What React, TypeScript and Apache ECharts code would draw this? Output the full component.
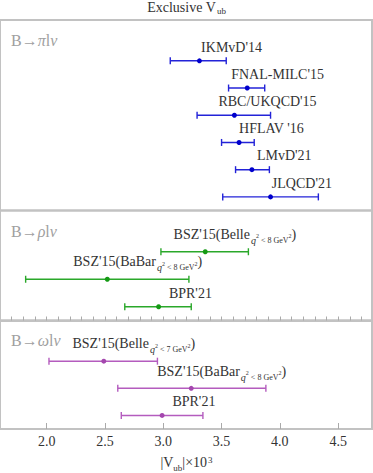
import React, { useEffect, useRef } from "react";
import * as echarts from "echarts";

// ---------- data ----------
const piNames = ["IKMvD'14", "FNAL-MILC'15", "RBC/UKQCD'15", "HFLAV '16", "LMvD'21", "JLQCD'21"];
const piCentral = [3.31, 3.72, 3.61, 3.65, 3.76, 3.92];
const piLow = [3.06, 3.56, 3.29, 3.5, 3.62, 3.51];
const piHigh = [3.54, 3.87, 3.92, 3.78, 3.91, 4.33];
const piCuts = ["", "", "", "", "", ""];

const rhoNames = ["BSZ'15(Belle", "BSZ'15(BaBar", "BPR'21"];
const rhoCentral = [3.36, 2.52, 2.96];
const rhoLow = [2.98, 1.82, 2.67];
const rhoHigh = [3.73, 3.22, 3.24];
const rhoCuts = ["8", "8", ""];

const omegaNames = ["BSZ'15(Belle", "BSZ'15(BaBar", "BPR'21"];
const omegaCentral = [2.49, 3.24, 2.99];
const omegaLow = [2.02, 2.61, 2.64];
const omegaHigh = [2.95, 3.88, 3.34];
const omegaCuts = ["7", "8", ""];

const xTickLabels = [2.0, 2.5, 3.0, 3.5, 4.0, 4.5];

// ---------- layout (pixel offsets for labels) ----------
const piLabelDx = [1.7, -16, -16, 0, 5, 1.3];
const rhoLabelDx = [-31.7, -34, 10.3];
const omegaLabelDx = [-31.3, -34, 10.3];

const FONT = "Liberation Serif, DejaVu Serif, serif";
const X_MIN = 1.6;
const X_MAX = 4.79;
const TXT = "#333";

const tok = (o: any) => ({ fontFamily: FONT, fontWeight: "normal", fill: TXT, color: TXT, ...o });

const labelRich = {
  m: tok({ fontSize: 14, lineHeight: 16, verticalAlign: "top" }),
  q: tok({ fontSize: 10, lineHeight: 12, fontStyle: "italic", verticalAlign: "top", padding: [8, 0, 0, 1] }),
  s: tok({ fontSize: 6, lineHeight: 7, verticalAlign: "top", padding: [6, 0, 0, 0] }),
  c: tok({ fontSize: 8, lineHeight: 10, verticalAlign: "top", padding: [9, 0, 0, 0] }),
};

function makeSeries(
  idx: number,
  names: string[],
  central: number[],
  low: number[],
  high: number[],
  cuts: string[],
  dxs: number[],
  color: string,
  dot: string
) {
  const data = central.map((c, i) => [c, low[i], high[i], i + 1.5]);
  return {
    type: "custom",
    xAxisIndex: idx,
    yAxisIndex: idx,
    data,
    silent: true,
    renderItem: (params: any, api: any) => {
      const i = params.dataIndex;
      const row = api.value(3);
      const pc = api.coord([api.value(0), row]);
      const pl = api.coord([api.value(1), row]);
      const ph = api.coord([api.value(2), row]);
      const y = pc[1];
      const cut = cuts[i];
      const text = cut
        ? `{m|${names[i]}}{q|q}{s|2}{c| < ${cut} GeV}{s|2}{m|)}`
        : `{m|${names[i]}}`;
      const lw = 1.4;
      return {
        type: "group",
        children: [
          { type: "line", shape: { x1: pl[0], y1: y, x2: ph[0], y2: y }, style: { stroke: color, lineWidth: lw } },
          { type: "line", shape: { x1: pl[0], y1: y - 3.5, x2: pl[0], y2: y + 3.5 }, style: { stroke: color, lineWidth: lw } },
          { type: "line", shape: { x1: ph[0], y1: y - 3.5, x2: ph[0], y2: y + 3.5 }, style: { stroke: color, lineWidth: lw } },
          { type: "circle", shape: { cx: pc[0], cy: y, r: 2.5 }, style: { fill: dot } },
          {
            type: "text",
            x: pc[0] + dxs[i],
            y: y + (cut ? -24.3 : -20.7),
            style: {
              text,
              rich: labelRich,
              fill: TXT,
              align: "left",
              verticalAlign: "top",
              fontFamily: FONT,
              fontSize: 14,
            },
          },
        ],
      };
    },
  };
}

const panelRich = {
  n: { fontSize: 16, fontFamily: FONT, fill: "#a0a0a0", fontWeight: "normal" },
  i: { fontSize: 16, fontFamily: FONT, fontStyle: "italic", fill: "#a0a0a0", fontWeight: "normal" },
};

export default function App() {
  const ref = useRef<HTMLDivElement>(null);
  useEffect(() => {
    if (!ref.current) return;
    const chart = echarts.init(ref.current, undefined, { renderer: "svg" });
    const grids = [
      { left: 0, right: 1, top: 20, height: 190.5 },
      { left: 0, right: 1, top: 210.5, height: 110 },
      { left: 0, right: 1, top: 320.5, height: 108.5 },
    ].map((g) => ({ ...g, show: true, borderColor: "#c2c2c2", borderWidth: 2, backgroundColor: "transparent" }));

    const hiddenX = (k: number) => ({
      gridIndex: k,
      type: "value",
      min: X_MIN,
      max: X_MAX,
      show: false,
    });
    const rows = [piNames.length, rhoNames.length, omegaNames.length];
    const yAxes = rows.map((n, k) => ({
      gridIndex: k,
      type: "value",
      min: 0,
      max: n + 1,
      inverse: true,
      show: false,
    }));

    const option: any = {
      animation: false,
      title: {
        text: "{a|Exclusive V}{b|ub}",
        left: "center",
        top: 0,
        padding: 0,
        textStyle: {
          fontWeight: "normal",
          fontFamily: FONT,
          rich: {
            a: { fontSize: 14, lineHeight: 14, verticalAlign: "top", fontFamily: FONT, color: TXT, fontWeight: "normal" },
            b: { fontSize: 9, lineHeight: 9, verticalAlign: "top", padding: [6, 0, 0, 1], fontFamily: FONT, color: TXT, fontWeight: "normal" },
          },
        },
      },
      grid: grids,
      xAxis: [
        hiddenX(0),
        hiddenX(1),
        {
          gridIndex: 2,
          type: "value",
          min: X_MIN,
          max: X_MAX,
          interval: 0.1,
          axisLine: { show: true, lineStyle: { color: "#c2c2c2", width: 2 } },
          axisTick: { show: true, inside: true, length: 4, lineStyle: { color: "#aaa", width: 1 } },
          splitLine: { show: false },
          axisLabel: {
            show: true,
            margin: 5,
            fontSize: 14,
            fontFamily: FONT,
            color: TXT,
            showMinLabel: false,
            showMaxLabel: false,
            formatter: (v: number) => {
              const hit = xTickLabels.some((t) => Math.abs(t - v) < 1e-6);
              return hit ? v.toFixed(1) : "";
            },
          },
        },
        {
          gridIndex: 2,
          type: "value",
          min: X_MIN,
          max: X_MAX,
          position: "bottom",
          axisLine: { show: false },
          axisLabel: { show: false },
          splitLine: { show: false },
          axisTick: { show: true, inside: true, length: 6, customValues: xTickLabels, lineStyle: { color: "#aaa", width: 1 } },
        },
      ],
      yAxis: yAxes,
      graphic: [
        {
          type: "text",
          x: 11,
          y: 40,
          style: { text: "{n|B→}{i|π}{n|l}{i|ν}", verticalAlign: "middle", fill: "#a0a0a0", rich: panelRich },
        },
        {
          type: "text",
          x: 11,
          y: 231,
          style: { text: "{n|B→}{i|ρ}{n|l}{i|ν}", verticalAlign: "middle", fill: "#a0a0a0", rich: panelRich },
        },
        {
          type: "text",
          x: 11,
          y: 340,
          style: { text: "{n|B→}{i|ω}{n|l}{i|ν}", verticalAlign: "middle", fill: "#a0a0a0", rich: panelRich },
        },
        {
          type: "text",
          left: "center",
          top: 455,
          style: {
            text: "{a||V}{b|ub}{a||×10}{c|3}",
            fill: TXT,
            rich: {
              a: tok({ fontSize: 14, lineHeight: 16, verticalAlign: "top" }),
              b: tok({ fontSize: 9, lineHeight: 9, verticalAlign: "top", padding: [8, 0, 0, 0] }),
              c: tok({ fontSize: 9, lineHeight: 9, verticalAlign: "top", padding: [0, 0, 0, 1] }),
            },
          },
        },
      ],
      series: [
        makeSeries(0, piNames, piCentral, piLow, piHigh, piCuts, piLabelDx, "#2323d8", "#0000cc"),
        makeSeries(1, rhoNames, rhoCentral, rhoLow, rhoHigh, rhoCuts, rhoLabelDx, "#2aa82a", "#159a15"),
        makeSeries(2, omegaNames, omegaCentral, omegaLow, omegaHigh, omegaCuts, omegaLabelDx, "#b45cbe", "#a447ae"),
      ],
    };
    chart.setOption(option);
    return () => chart.dispose();
  }, []);
  return <div ref={ref} style={{ width: 373, height: 473, position: "absolute", left: 0, top: 0 }} />;
}
